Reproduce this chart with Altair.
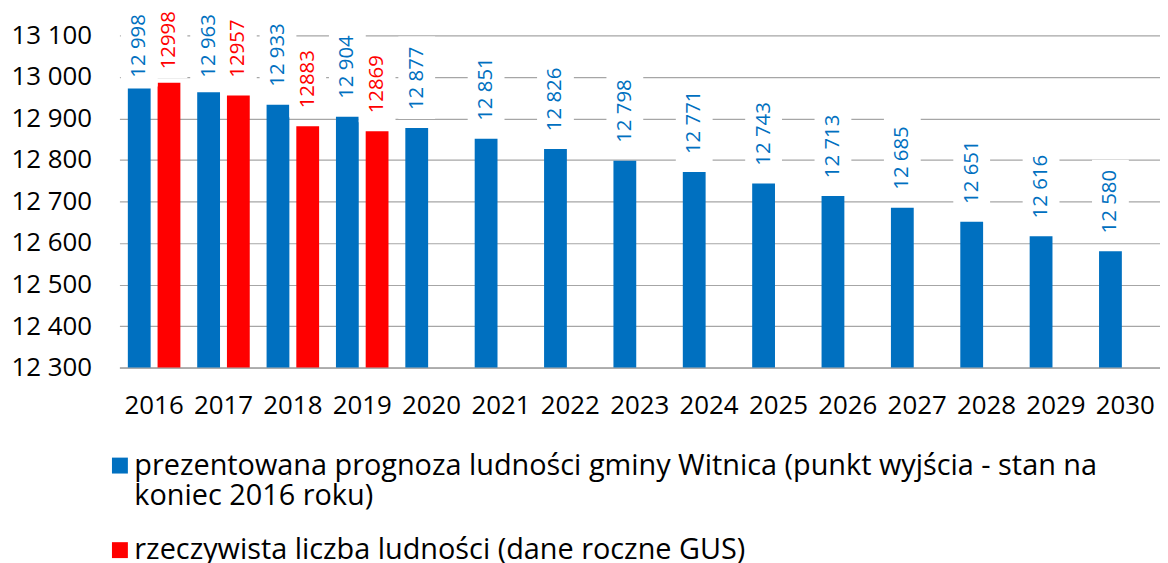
import altair as alt
import pandas as pd

years = [str(y) for y in range(2016, 2031)]
forecast_values = [12972, 12963, 12933, 12904, 12877, 12851, 12826, 12798, 12771, 12743, 12713, 12685, 12651, 12616, 12580]
forecast_labels = ["12 998", "12 963", "12 933", "12 904", "12 877", "12 851", "12 826", "12 798", "12 771", "12 743", "12 713", "12 685", "12 651", "12 616", "12 580"]
actual_years = ["2016", "2017", "2018", "2019"]
actual_values = [12986, 12955, 12881, 12869]
actual_labels = ["12998", "12957", "12883", "12869"]

S1 = "prezentowana prognoza ludności gminy Witnica (punkt wyjścia - stan na koniec 2016 roku)"
S2 = "rzeczywista liczba ludności (dane roczne GUS)"
S1_lines = ["prezentowana prognoza ludności gminy Witnica (punkt wyjścia - stan na", "koniec 2016 roku)"]

rows = []
for y, v, l in zip(years, forecast_values, forecast_labels):
    rows.append({"year": y, "series": S1, "value": v, "label": l})
for y, v, l in zip(actual_years, actual_values, actual_labels):
    rows.append({"year": y, "series": S2, "value": v, "label": l})
df = pd.DataFrame(rows)

FONT = "Open Sans"
BLUE = "#0070C0"
RED = "#FF0000"
Y_MIN, Y_MAX = 12300, 13100

ysc = alt.Scale(domain=[Y_MIN, Y_MAX], nice=False, zero=False)

base = alt.Chart(df).encode(
    x=alt.X("year:N", scale=alt.Scale(paddingInner=0, paddingOuter=0),
            axis=alt.Axis(title=None, labelAngle=0, ticks=False, domain=True,
                          domainColor="#A6A6A6", domainWidth=1.5,
                          labelFont=FONT, labelFontSize=26, labelColor="black",
                          labelPadding=25)),
    xOffset=alt.XOffset("series:N", scale=alt.Scale(domain=[S1, S2], paddingInner=0.233, paddingOuter=0.283)),
)

bars = base.mark_bar().encode(
    y=alt.Y("value:Q", scale=ysc,
            axis=alt.Axis(title=None, values=list(range(Y_MIN, Y_MAX + 1, 100)),
                          labelExpr="replace(format(datum.value, ','), ',', ' ')",
                          ticks=False, domain=False, grid=True, gridColor="#A6A6A6", gridWidth=1.2,
                          labelFont=FONT, labelFontSize=26, labelColor="black", labelPadding=28)),
    y2=alt.datum(Y_MIN),
    color=alt.Color("series:N", scale=alt.Scale(domain=[S1, S2], range=[BLUE, RED]),
                    legend=alt.Legend(title=None, orient="none", legendX=-14, legendY=418,
                                      padding=0,
                                      direction="vertical", symbolType="square", symbolSize=256,
                                      symbolStrokeWidth=0, labelFont=FONT, labelFontSize=29,
                                      labelColor="black", labelLimit=1200, rowPadding=24,
                                      labelOffset=0,
                                      labelExpr="datum.label == '" + S1 + "' ? ['" + S1_lines[0] + "', '" + S1_lines[1] + "'] : datum.label")),
)

# label anchors are kept inside the chart area (as the original chart does for the 2016 labels)
lab1 = base.transform_filter(alt.datum.series == S1).transform_calculate(pos="min(datum.value, 12955)")
lab2 = base.transform_filter(alt.datum.series == S2).transform_calculate(pos="min(datum.value, 12975)")

box1 = lab1.mark_bar(color="white", width=37, yOffset=-9, y2Offset=-92).encode(
    y=alt.Y("pos:Q", scale=ysc), y2="pos:Q")
box2 = lab2.mark_bar(color="white", width=37, yOffset=-9, y2Offset=-84).encode(
    y=alt.Y("pos:Q", scale=ysc), y2="pos:Q")

txt1 = lab1.mark_text(angle=270, align="left", baseline="middle", dx=18, font=FONT,
                      fontSize=20.5, color=BLUE).encode(y=alt.Y("pos:Q", scale=ysc), text="label:N")
txt2 = lab2.mark_text(angle=270, align="left", baseline="middle", dx=18, font=FONT,
                      fontSize=20.5, color=RED).encode(y=alt.Y("pos:Q", scale=ysc), text="label:N")

chart = alt.layer(bars, box1, box2, txt1, txt2).properties(
    width=1046, height=334,
    autosize=alt.AutoSizeParams(type="none"),
    padding={"left": 112, "top": 26, "right": 0, "bottom": 200},
).configure(
    view=alt.ViewConfig(stroke=None),
)

chart.save("out.html", embed_options={"renderer": "svg", "actions": False})
